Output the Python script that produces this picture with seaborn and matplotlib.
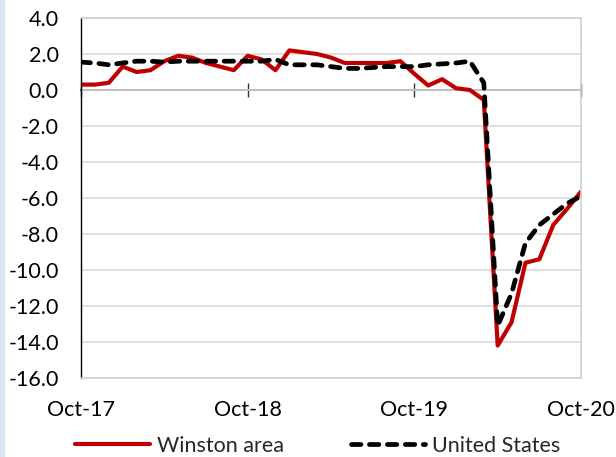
import numpy as np
import pandas as pd
import matplotlib
matplotlib.use("Agg")
import matplotlib.pyplot as plt
import seaborn as sns
from matplotlib.patches import Rectangle

# monthly, Oct-17 .. Oct-20 (37 points)
months = pd.date_range("2017-10-01", "2020-10-01", freq="MS")
winston = [0.3, 0.3, 0.4, 1.3, 1.0, 1.1, 1.6, 1.9, 1.8, 1.5, 1.3, 1.1,
           1.9, 1.7, 1.1, 2.2, 2.1, 2.0, 1.8, 1.5, 1.5, 1.5, 1.5, 1.6,
           0.9, 0.25, 0.6, 0.1, 0.0, -0.55, -14.2, -12.9, -9.6, -9.4,
           -7.5, -6.6, -5.65]
us = [1.55, 1.5, 1.4, 1.5, 1.6, 1.6, 1.55, 1.6, 1.6, 1.6, 1.6, 1.6,
      1.6, 1.6, 1.7, 1.4, 1.4, 1.4, 1.3, 1.2, 1.2, 1.25, 1.3, 1.3,
      1.3, 1.4, 1.45, 1.5, 1.6, 0.4, -13.1, -11.3, -8.5, -7.5,
      -6.9, -6.3, -5.9]
tick_labels = ["Oct-17", "Oct-18", "Oct-19", "Oct-20"]
yticks = np.arange(-16, 4.1, 2)

idx = np.arange(len(months))
df = pd.DataFrame({"m": idx, "Winston area": winston, "United States": us})

sns.set_theme(style="white")
plt.rcParams["font.family"] = ["Lato", "DejaVu Sans"]
fs = 15.5

fig = plt.figure(figsize=(6.16, 4.57), dpi=100)
ax = fig.add_axes([0.1315, 0.1729, 0.8117, 0.7877])

sns.lineplot(data=df, x="m", y="Winston area", ax=ax, color="#c00000",
             linewidth=3.0, label="Winston area", solid_capstyle="round")
sns.lineplot(data=df, x="m", y="United States", ax=ax, color="black",
             linewidth=3.4, label="United States", dash_capstyle="round")
ax.lines[1].set_dashes((2.0, 1.8))

ax.set_xlim(0, 36)
ax.set_ylim(-16, 4)
ax.set_yticks(yticks)
ax.set_yticklabels([f"{v:.1f}" for v in yticks])
ax.set_xticks([0, 12, 24, 36])
ax.set_xticklabels(tick_labels)
ax.tick_params(axis="x", length=0, pad=16, labelsize=fs, colors="black")
ax.tick_params(axis="y", length=0, pad=16, labelsize=fs, colors="black")
ax.set_xlabel("")
ax.set_ylabel("")
ax.grid(axis="y", color="#d9d9d9", linewidth=1.2)
ax.set_axisbelow(True)

for s in ["top", "right", "bottom"]:
    ax.spines[s].set_color("#d0d0d0")
    ax.spines[s].set_linewidth(1.2)
ax.spines["left"].set_color("black")
ax.spines["left"].set_linewidth(1.0)

# zero axis with crossing ticks
sec = ax.secondary_xaxis(16 / 20)
sec.set_xticks([0, 12, 24, 36])
sec.set_xticklabels([])
sec.tick_params(direction="inout", length=10, width=1.0, color="#333333")
sec.spines["bottom"].set_color("black")
sec.spines["bottom"].set_linewidth(1.0)

ax.legend(loc="center", bbox_to_anchor=(0.516, 0.024), bbox_transform=fig.transFigure,
          ncol=2, frameon=False, fontsize=fs, handlelength=3.45,
          handletextpad=0.33, columnspacing=3.1)

fig.patches.append(Rectangle((0, 0), 4 / 616, 1, transform=fig.transFigure,
                             color="#dae3f3", zorder=-1))

fig.savefig("out.png", dpi=100)
